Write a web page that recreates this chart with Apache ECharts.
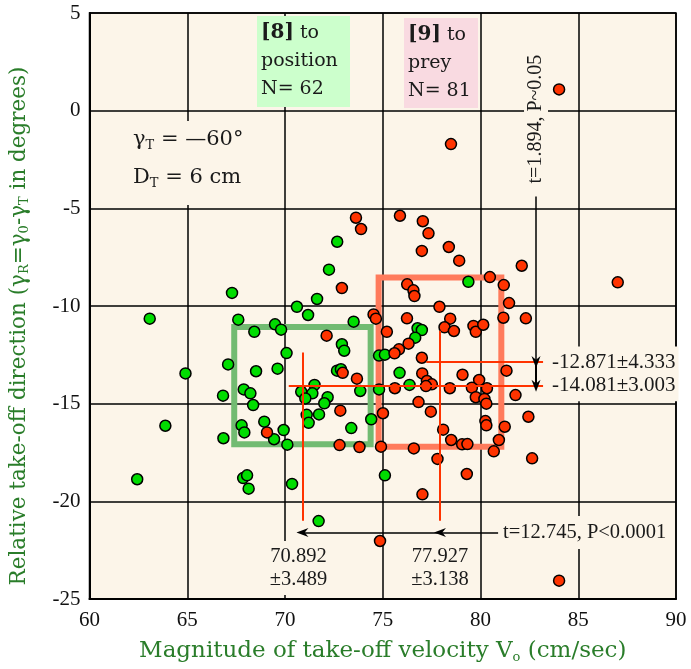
<!DOCTYPE html>
<html>
<head>
<meta charset="utf-8" />
<script src="https://cdn.jsdelivr.net/npm/echarts/dist/echarts.min.js"></script>
</head>
<body style="margin:0;background:#fff;">
<div id="main" style="width:691px;height:669px;"></div>
<script type="text/javascript">
// take-off to position [8] (green) and to prey [9] (red): [velocity cm/s, relative direction deg]
const greenPts = [
  [72.67, -6.71], [72.25, -8.14], [67.29, -9.33], [71.64, -9.64], [70.61, -10.04], [71.18, -10.46], [63.08, -10.65], [67.61, -10.70], [73.51, -10.80], [69.49, -10.94],
  [69.80, -11.21], [68.43, -11.32], [72.91, -11.96], [73.03, -12.29], [70.08, -12.41], [74.81, -12.54], [75.11, -12.49], [67.09, -12.99], [64.91, -13.45], [68.52, -13.34],
  [69.62, -13.21], [72.66, -13.31], [72.86, -13.24], [71.51, -14.04], [73.85, -14.35], [74.81, -14.27], [66.83, -14.59], [67.89, -14.27], [68.23, -14.47], [70.83, -14.39],
  [71.40, -14.47], [71.04, -14.73], [72.18, -14.67], [68.37, -15.07], [72.01, -14.98], [63.88, -16.13], [71.11, -15.57], [71.74, -15.55], [71.21, -15.98], [68.94, -15.92],
  [67.78, -16.11], [67.92, -16.47], [69.93, -16.35], [73.39, -16.25], [74.41, -15.80], [66.85, -16.77], [69.44, -16.82], [70.12, -17.10], [62.44, -18.87], [67.86, -18.81],
  [68.06, -18.67], [68.14, -19.35], [70.36, -19.11], [75.11, -18.67], [71.72, -21.01], [79.38, -8.76], [76.78, -11.14], [77.00, -11.23], [76.66, -11.62], [75.86, -13.42],
  [76.37, -14.04]
];
const redPts = [
  [73.63, -5.48], [73.89, -6.06], [72.91, -9.08], [74.53, -10.43], [74.65, -10.65], [75.21, -11.32], [72.13, -11.52], [72.95, -13.42], [73.68, -13.72], [72.83, -15.36],
  [75.01, -15.49], [69.08, -16.47], [72.79, -17.12], [73.81, -17.22], [74.91, -17.20], [74.86, -22.03], [75.88, -5.38], [77.05, -5.66], [77.34, -6.28], [77.00, -7.18],
  [78.38, -6.98], [78.91, -7.68], [82.11, -7.94], [80.48, -8.52], [76.25, -8.89], [76.57, -9.20], [76.62, -9.49], [81.19, -8.93], [81.46, -9.85], [77.90, -10.04],
  [76.24, -10.63], [78.45, -10.65], [81.17, -10.60], [82.32, -10.63], [78.16, -11.09], [78.64, -11.28], [79.64, -11.02], [79.76, -11.32], [80.14, -10.96], [76.32, -11.93],
  [75.83, -12.22], [75.60, -12.42], [77.00, -12.65], [77.02, -13.45], [77.26, -13.84], [77.51, -14.01], [77.21, -14.10], [75.62, -14.21], [79.08, -13.52], [79.93, -13.79],
  [81.33, -13.31], [78.43, -14.21], [79.56, -14.18], [80.33, -14.21], [81.79, -14.56], [79.76, -14.67], [80.20, -14.76], [80.30, -15.00], [76.83, -14.92], [77.46, -15.41],
  [80.25, -15.89], [80.30, -16.11], [81.24, -16.18], [82.45, -15.67], [78.09, -16.33], [78.50, -16.86], [79.06, -17.08], [79.33, -17.07], [80.94, -16.86], [80.68, -17.44],
  [76.59, -17.29], [77.80, -17.83], [79.30, -18.60], [77.03, -19.64], [82.64, -17.80], [84.02, -24.06], [87.02, -8.79], [84.02, 1.09], [78.49, -1.71]
];
// mean and SD (x = velocity, y = direction)
const greenMean = [70.892, -14.081];
const greenSd = [3.489, 3.003];
const redMean = [77.927, -12.871];
const redSd = [3.138, 4.333];
const tVelocity = 't=12.745, P<0.0001';
const tDirection = 't=1.894, P~0.05';

const FONT = 'Liberation Serif';
const WIDE = 'DejaVu Serif';
const BG = '#fcf5e9';
const GREEN_TXT = '#2a7d2a';
const fmt = v => v.toFixed(3);

const arrowHead = 'path://M5,0L10,13L5,9L0,13Z';

const chart = echarts.init(document.getElementById('main'));

function sdBox(mean, sd, color) {
  return [
    { coord: [mean[0] - sd[0], mean[1] + sd[1]], itemStyle: { color: 'rgba(0,0,0,0)', borderColor: color, borderWidth: 6 } },
    { coord: [mean[0] + sd[0], mean[1] - sd[1]] }
  ];
}

const lineEndX = 83.2;
const arrowX = 82.84;
const arrowY = -21.6;
const crossBottom = -21.0;

chart.setOption({
  animation: false,
  backgroundColor: '#fff',
  grid: { left: 89, right: 15, top: 13, bottom: 70, show: true, backgroundColor: BG, borderColor: '#000', borderWidth: 1.5 },
  xAxis: {
    type: 'value', min: 60, max: 90, interval: 5,
    name: 'Magnitude of take-off velocity V{s|o} (cm/sec)',
    nameLocation: 'middle', nameGap: 40,
    nameTextStyle: {
      color: GREEN_TXT, fontFamily: WIDE, fontSize: 23,
      rich: { s: { color: GREEN_TXT, fontFamily: WIDE, fontSize: 13, padding: [12, 0, 0, 0] } }
    },
    axisLine: { onZero: false, lineStyle: { color: '#000', width: 2 } },
    axisTick: { show: false },
    axisLabel: { color: '#111', fontFamily: FONT, fontSize: 21, margin: 11 },
    splitLine: { lineStyle: { color: '#000', width: 1.5 } }
  },
  yAxis: {
    type: 'value', min: -25, max: 5, interval: 5,
    name: 'Relative take-off direction (γ{s|R}=γ{s|0}-γ{s|T} in degrees)',
    nameLocation: 'middle', nameGap: 58,
    nameTextStyle: {
      color: GREEN_TXT, fontFamily: WIDE, fontSize: 21.5, padding: [0, 40, 0, 0],
      rich: { s: { color: GREEN_TXT, fontFamily: WIDE, fontSize: 13, padding: [12, 0, 0, 0] } }
    },
    axisLine: { onZero: false, lineStyle: { color: '#000', width: 2 } },
    axisTick: { show: false },
    axisLabel: { color: '#111', fontFamily: FONT, fontSize: 21, margin: 9 },
    splitLine: { lineStyle: { color: '#000', width: 1.5 } }
  },
  series: [
    {
      name: 'boxes', type: 'scatter', data: [], z: 1, silent: true,
      markArea: { silent: true, data: [sdBox(greenMean, greenSd, '#72bb72'), sdBox(redMean, redSd, '#ff7b5c')] }
    },
    {
      name: 'means', type: 'scatter', data: [], z: 1, silent: true,
      markLine: {
        silent: true, symbol: ['none', 'none'], label: { show: false },
        lineStyle: { color: '#ff3300', width: 2, type: 'solid' },
        data: [
          [{ coord: [greenMean[0] - 0.7, greenMean[1]] }, { coord: [lineEndX, greenMean[1]] }],
          [{ coord: [greenMean[0], greenMean[1] + 1.7] }, { coord: [greenMean[0], crossBottom] }],
          [{ coord: [redMean[0] - 0.7, redMean[1]] }, { coord: [lineEndX, redMean[1]] }],
          [{ coord: [redMean[0], redMean[1] + 1.6] }, { coord: [redMean[0], crossBottom] }]
        ]
      }
    },
    {
      name: 'tests', type: 'scatter', data: [], z: 1, silent: true,
      markLine: {
        silent: true, symbol: ['none', arrowHead], symbolSize: [9, 12], label: { show: false },
        lineStyle: { color: '#000', width: 1.5, type: 'solid' },
        data: [
          [{ coord: [80.9, arrowY] }, { coord: [redMean[0], arrowY] }],
          [{ coord: [redMean[0], arrowY] }, { coord: [greenMean[0], arrowY] }],
          [{ coord: [arrowX, -4.4] }, { coord: [arrowX, redMean[1]] }],
          [{ coord: [arrowX, redMean[1]] }, { coord: [arrowX, greenMean[1]], lineStyle: { width: 2 } }]
        ]
      }
    },
    {
      name: 'to position', type: 'scatter', data: greenPts, z: 3,
      symbol: 'circle', symbolSize: 11,
      itemStyle: { color: '#00dd00', borderColor: '#000', borderWidth: 1.5, opacity: 1 }
    },
    {
      name: 'to prey', type: 'scatter', data: redPts, z: 3,
      symbol: 'circle', symbolSize: 11,
      itemStyle: { color: '#ff3300', borderColor: '#000', borderWidth: 1.5, opacity: 1 }
    }
  ]
});

const px = (x, y) => chart.convertToPixel({ gridIndex: 0 }, [x, y]);
const txt = (size, extra, family) => Object.assign({ fill: '#1a1a1a', fontFamily: family || FONT, fontSize: size }, extra);
const sub = { s: { fill: '#1a1a1a', fontFamily: WIDE, fontSize: 13, padding: [11, 0, 0, 0] } };
const bold = { b: { fill: '#1a1a1a', fontFamily: WIDE, fontSize: 20, fontWeight: 'bold' } };

const pRed = px(redMean[0], redMean[1]);
const pGreen = px(greenMean[0], greenMean[1]);
const pArrow = px(arrowX, arrowY);
const pTop = px(arrowX, -0.43);

chart.setOption({
  graphic: [
    { type: 'rect', z: 5, shape: { x: 257, y: 16, width: 93, height: 91 }, style: { fill: '#ccffcc' } },
    { type: 'text', z: 6, x: 261, y: 19, style: txt(19, { text: '{b|[8]} to\nposition\nN= 62', lineHeight: 28, rich: bold }, WIDE) },
    { type: 'rect', z: 5, shape: { x: 404, y: 18, width: 74, height: 90 }, style: { fill: '#f9dae1' } },
    { type: 'text', z: 6, x: 408, y: 21, style: txt(19, { text: '{b|[9]} to\nprey\nN= 81', lineHeight: 28, rich: bold }, WIDE) },
    { type: 'text', z: 5, x: 129, y: 121, style: txt(21, { text: 'γ{s|T} = —60°\nD{s|T} = 6 cm', lineHeight: 38, backgroundColor: BG, padding: [0, 4, 8, 4], rich: sub }, WIDE) },
    { type: 'text', z: 5, x: pTop[0], y: pTop[1], rotation: Math.PI / 2, style: txt(20, { text: tDirection, align: 'center', verticalAlign: 'middle', backgroundColor: BG, padding: [2, 5] }) },
    { type: 'text', z: 5, x: 549, y: pRed[1], style: txt(21, { text: '-' + fmt(-redMean[1]) + '±' + fmt(redSd[1]), verticalAlign: 'middle', backgroundColor: BG, padding: [8, 3, 2, 3] }) },
    { type: 'text', z: 5, x: 549, y: pGreen[1], style: txt(21, { text: '-' + fmt(-greenMean[1]) + '±' + fmt(greenSd[1]), verticalAlign: 'middle', backgroundColor: BG, padding: [2, 3, 8, 3] }) },
    { type: 'text', z: 5, x: pArrow[0] - 36, y: pArrow[1], style: txt(20.5, { text: tVelocity, verticalAlign: 'middle', backgroundColor: BG, padding: [6, 3] }) },
    { type: 'text', z: 5, x: pGreen[0] - 4, y: 568, style: txt(20.5, { text: fmt(greenMean[0]) + '\n±' + fmt(greenSd[0]), align: 'center', verticalAlign: 'middle', lineHeight: 23, backgroundColor: BG, padding: [4, 4] }) },
    { type: 'text', z: 5, x: pRed[0], y: 568, style: txt(20.5, { text: fmt(redMean[0]) + '\n±' + fmt(redSd[0]), align: 'center', verticalAlign: 'middle', lineHeight: 23, backgroundColor: BG, padding: [4, 4] }) }
  ]
});
</script>
</body>
</html>
